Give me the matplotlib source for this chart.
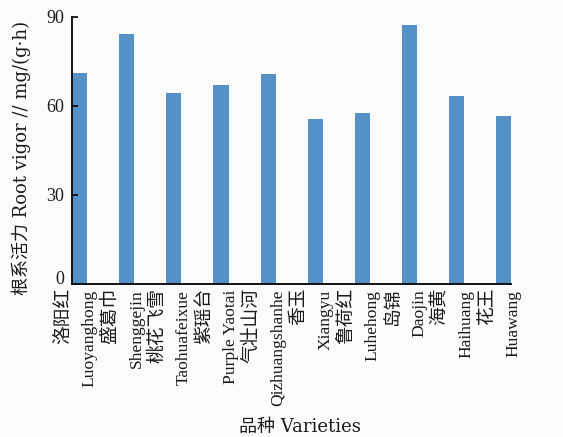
import matplotlib
matplotlib.use("Agg")
import matplotlib.pyplot as plt
import matplotlib.transforms as mtransforms
import numpy as np

plt.rcParams['font.family'] = ['Liberation Serif', 'Noto Sans CJK SC']

# Varieties (Chinese name, pinyin/English name) and root vigor values
names_cn = ["洛阳红", "盛葛巾", "桃花飞雪", "紫瑶台", "气壮山河",
            "香玉", "鲁荷红", "岛锦", "海黄", "花王"]
names_en = ["Luoyanghong", "Shenggejin", "Taohuafeixue", "Purple Yaotai",
            "Qizhuangshanhe", "Xiangyu", "Luhehong", "Daojin", "Haihuang",
            "Huawang"]
root_vigor = [71.1, 84.2, 64.3, 67.0, 70.6, 55.4, 57.4, 87.1, 63.4, 56.5]
y_ticks = [0, 30, 60, 90]

bg = "#fbfbfb"
text_color = "#1a1a1a"
fig = plt.figure(figsize=(5.63, 4.37), dpi=100, facecolor=bg)
ax = fig.add_axes([0.1284, 0.3508, 0.7792, 0.611], facecolor=bg)

x = np.arange(len(root_vigor))
width = 0.32
ax.bar(x, root_vigor, width=width, color="#5591c7", edgecolor="none")

ax.set_xlim(-width / 2, len(x) - 1 + width / 2)
ax.set_ylim(0, 90)
ax.set_yticks(y_ticks)
ax.set_yticklabels([str(t) for t in y_ticks], fontsize=13, color=text_color)
ax.tick_params(axis="y", direction="in", length=4, width=1.2, pad=6)

# lift the "0" label a little so it clears the category names below
zero_label = ax.get_yticklabels()[0]
zero_label.set_transform(zero_label.get_transform()
                         + mtransforms.Affine2D().translate(0, 6))

# category labels: Chinese name and Latin name as two rotated columns
ax.set_xticks(x)
ax.set_xticklabels([])
ax.tick_params(axis="x", length=0)

base = ax.get_xaxis_transform()
cn_tr = mtransforms.offset_copy(base, fig=fig, x=-17, y=-4, units="dots")
en_tr = mtransforms.offset_copy(base, fig=fig, x=10, y=-6, units="dots")
for xi, cn, en in zip(x, names_cn, names_en):
    ax.text(xi, 0, cn, transform=cn_tr, rotation=90, ha="center", va="top",
            fontsize=13.5, family=["Noto Sans CJK SC"], color=text_color)
    ax.text(xi, 0, en, transform=en_tr, rotation=90, ha="center", va="top",
            fontsize=12.6, family=["Liberation Serif"], color=text_color)

for side in ("top", "right"):
    ax.spines[side].set_visible(False)
for side in ("left", "bottom"):
    ax.spines[side].set_linewidth(1.4)
    ax.spines[side].set_color("#111111")

label_family = ["DejaVu Serif", "Noto Sans CJK SC"]
fig.text(21 / 563, 1 - 158 / 437, "根系活力 Root vigor // mg/(g·h)",
         rotation=90, ha="center", va="center", fontsize=13,
         family=label_family, color=text_color)
fig.text(300 / 563, 1 - 427 / 437, "品种 Varieties",
         ha="center", va="center", fontsize=13,
         family=label_family, color=text_color)

fig.savefig("out.png", dpi=100, facecolor=bg)
